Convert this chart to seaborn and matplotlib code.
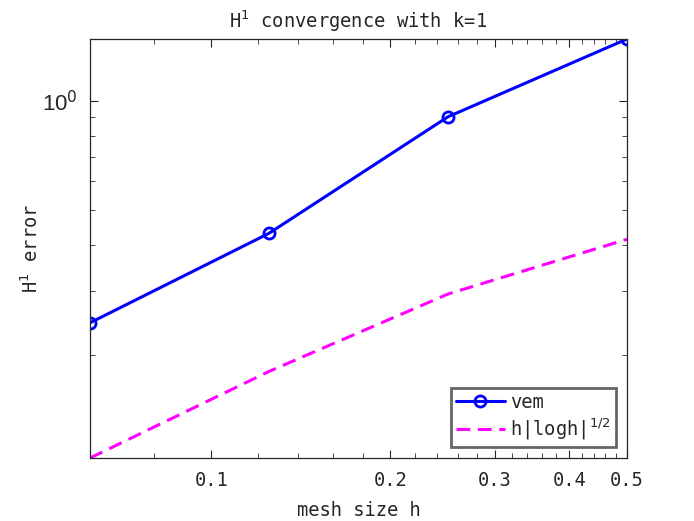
import numpy as np
import pandas as pd
import matplotlib
matplotlib.use("Agg")
import matplotlib.pyplot as plt
import seaborn as sns
from matplotlib.ticker import FixedLocator, NullFormatter, FixedFormatter

# data
h = [0.0625, 0.125, 0.25, 0.5]
vem = [0.245, 0.432, 0.904, 1.48]
ref = [0.104, 0.180, 0.294, 0.416]
xtick_vals = [0.1, 0.2, 0.3, 0.4, 0.5]
xtick_labels = ["0.1", "0.2", "0.3", "0.4", "0.5"]
ytick_vals = [1.0]
ytick_labels = ["10$^{0}$"]
series_names = ["vem", r"h|logh|$^{1/2}$"]

sns.set_style("white")
plt.rcParams["font.family"] = ["DejaVu Sans Mono"]

fig = plt.figure(figsize=(6.94, 5.21), dpi=100)
ax = fig.add_axes([90/694, 1-458/521, (627-90)/694, (458-39)/521])

df1 = pd.DataFrame({"h": h, "err": vem})
df2 = pd.DataFrame({"h": h, "err": ref})
sns.lineplot(data=df1, x="h", y="err", ax=ax, color=(0, 0, 1), lw=2.2,
             marker="o", markersize=8, markerfacecolor="none",
             markeredgecolor=(0, 0, 1), markeredgewidth=2, label=series_names[0])
sns.lineplot(data=df2, x="h", y="err", ax=ax, color=(1, 0, 1), lw=2.2,
             linestyle=(0, (4.5, 2.5)), label=series_names[1])

ax.set_xscale("log")
ax.set_yscale("log")
ax.set_xlim(min(h), max(h))
ax.set_ylim(min(ref), max(vem))

ax.xaxis.set_major_locator(FixedLocator(xtick_vals))
ax.xaxis.set_major_formatter(FixedFormatter(xtick_labels))
xminor = [v for v in np.round(np.arange(0.08, 0.5, 0.02), 2) if v not in xtick_vals]
ax.xaxis.set_minor_locator(FixedLocator(xminor))
ax.xaxis.set_minor_formatter(NullFormatter())

ax.yaxis.set_major_locator(FixedLocator(ytick_vals))
ax.yaxis.set_major_formatter(FixedFormatter(ytick_labels))
ax.yaxis.set_minor_locator(FixedLocator([0.2, 0.3, 0.4, 0.5, 0.6, 0.7, 0.8, 0.9]))
ax.yaxis.set_minor_formatter(NullFormatter())

ax.tick_params(which="both", direction="in", top=True, right=True,
               bottom=True, left=True, color="#262626")
ax.tick_params(which="major", length=6, width=0.8, labelsize=13.5, pad=9)
ax.tick_params(which="minor", length=3.5, width=0.6)
for lab in ax.get_yticklabels():
    lab.set_fontfamily("Liberation Sans")
    lab.set_fontsize(16)

for s in ax.spines.values():
    s.set_color("#262626")
    s.set_linewidth(0.9)

ax.set_title(r"H$^{1}$ convergence with k=1", fontsize=13.5, pad=8)
ax.set_xlabel("mesh size h", fontsize=13.5, labelpad=8)
ax.set_ylabel(r"H$^{1}$ error", fontsize=13.5, labelpad=0)

leg = ax.legend(loc="lower right", fontsize=13.5, frameon=True, fancybox=False,
                borderaxespad=0.6, handlelength=2.6, handletextpad=0.3,
                borderpad=0.25, labelspacing=0.25)
leg.get_frame().set_edgecolor("#404040")
leg.get_frame().set_linewidth(2)

fig.savefig("out.png", dpi=100, facecolor="white")
